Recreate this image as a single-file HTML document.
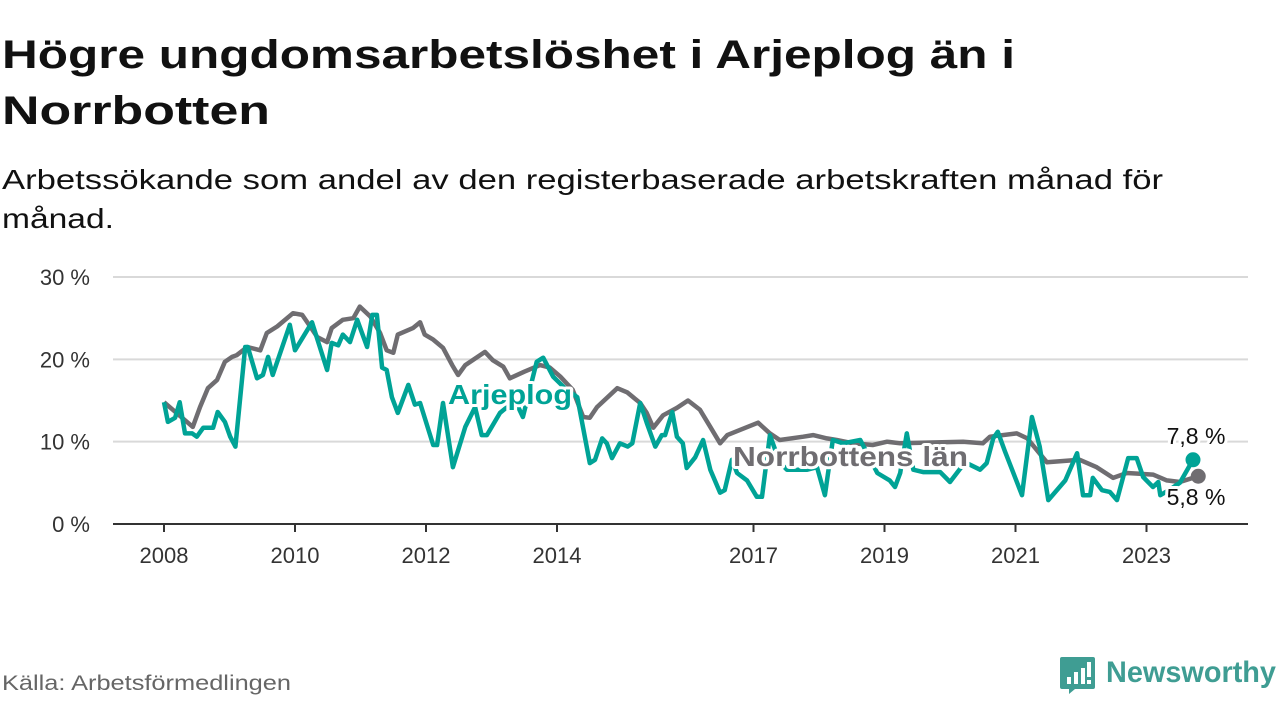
<!DOCTYPE html>
<html><head><meta charset="utf-8">
<style>
body{margin:0;background:#fff;width:1280px;height:720px;overflow:hidden;font-family:"Liberation Sans","DejaVu Sans",sans-serif;}
svg text{font-family:"Liberation Sans","DejaVu Sans",sans-serif;}
</style></head>
<body>
<svg id="chart" width="1280" height="720" viewBox="0 0 1280 720">
<text x="2" y="68" font-size="40" font-weight="bold" fill="#111" textLength="1013" lengthAdjust="spacingAndGlyphs">Högre ungdomsarbetslöshet i Arjeplog än i</text>
<text x="2" y="124" font-size="40" font-weight="bold" fill="#111" textLength="268" lengthAdjust="spacingAndGlyphs">Norrbotten</text>
<text x="2" y="189" font-size="28" fill="#111" textLength="1161" lengthAdjust="spacingAndGlyphs">Arbetssökande som andel av den registerbaserade arbetskraften månad för</text>
<text x="2" y="228" font-size="28" fill="#111" textLength="112" lengthAdjust="spacingAndGlyphs">månad.</text>
<g id="grid"></g>
<g id="xaxis"></g>
<g id="lines"></g>
<g id="labels"></g>
<text x="2" y="690" font-size="21" fill="#666" textLength="289" lengthAdjust="spacingAndGlyphs">Källa: Arbetsförmedlingen</text>
<g>
<path d="M1062 657 h31 a2 2 0 0 1 2 2 v28 a2 2 0 0 1 -2 2 h-18 l-6 5 v-5 h-7 a2 2 0 0 1 -2 -2 v-28 a2 2 0 0 1 2 -2z" fill="#3f9d93"/>
<rect x="1067" y="677" width="4" height="7" fill="#fff"/><rect x="1074" y="672" width="4" height="12" fill="#fff"/><rect x="1081" y="668" width="4" height="16" fill="#fff"/><rect x="1087" y="662" width="4" height="15" fill="#fff"/><rect x="1087" y="680" width="4" height="4" fill="#fff"/>
<text x="1106" y="682" font-size="30" font-weight="bold" fill="#3f9d93" textLength="170" lengthAdjust="spacingAndGlyphs">Newsworthy</text>
</g>
</svg>
<script>
const yTicks=[0,10,20,30];
const yTickLabels=["0 %","10 %","20 %","30 %"];
const xTicks=[2008,2010,2012,2014,2017,2019,2021,2023];
const norrDates=[0.00,0.44,0.55,0.67,0.81,0.93,1.04,1.11,1.27,1.47,1.57,1.73,1.97,2.11,2.23,2.34,2.49,2.56,2.73,2.89,2.99,3.15,3.30,3.40,3.50,3.57,3.80,3.91,3.98,4.11,4.26,4.40,4.49,4.60,4.90,5.02,5.18,5.28,5.50,5.74,5.89,6.05,6.24,6.40,6.50,6.61,6.92,7.07,7.27,7.37,7.47,7.62,7.83,8.00,8.18,8.34,8.49,8.60,8.79,9.07,9.25,9.40,9.76,9.91,10.12,10.27,10.52,10.82,11.04,11.24,12.20,12.50,12.61,13.02,13.18,13.48,13.98,14.24,14.49,14.70,15.10,15.31,15.51,15.79];
const norrValues=[14.8,11.8,14.2,16.5,17.5,19.7,20.3,20.5,21.5,21.1,23.2,24,25.6,25.4,24,22.7,22.1,23.8,24.8,25,26.4,25.2,23.2,21.1,20.8,23,23.8,24.5,23,22.4,21.4,19.3,18.1,19.3,20.9,19.9,19.1,17.7,18.5,19.3,19,17.9,16.3,13,12.9,14.2,16.5,16,14.7,13.5,11.7,13.2,14.1,15,13.9,11.8,9.8,10.8,11.4,12.3,11,10.2,10.6,10.8,10.4,10.2,9.8,9.6,10,9.8,10,9.8,10.6,11,10.4,7.5,7.8,6.9,5.6,6.2,6,5.3,5.1,5.8];
const arjDates=[0.00,0.06,0.17,0.24,0.32,0.43,0.50,0.60,0.75,0.82,0.93,1.01,1.09,1.24,1.28,1.42,1.51,1.59,1.66,1.92,2.00,2.26,2.49,2.56,2.66,2.73,2.84,2.95,3.10,3.18,3.25,3.33,3.40,3.48,3.57,3.73,3.83,3.91,4.11,4.17,4.26,4.41,4.60,4.75,4.85,4.93,5.13,5.36,5.48,5.69,5.79,5.94,6.12,6.31,6.50,6.58,6.69,6.76,6.84,6.96,7.08,7.15,7.27,7.37,7.50,7.60,7.65,7.76,7.83,7.92,7.98,8.11,8.23,8.34,8.49,8.56,8.67,8.75,8.90,9.05,9.13,9.25,9.40,9.51,9.82,9.97,10.09,10.21,10.37,10.63,10.89,11.08,11.16,11.24,11.34,11.44,11.59,11.85,12.00,12.23,12.46,12.56,12.66,12.73,12.84,13.10,13.25,13.37,13.50,13.76,13.94,14.03,14.14,14.18,14.32,14.44,14.55,14.72,14.85,14.95,15.10,15.18,15.21,15.36,15.51,15.71];
const arjValues=[14.8,12.4,12.9,14.8,11,11,10.6,11.7,11.7,13.6,12.4,10.6,9.4,21.5,21.5,17.7,18.1,20.3,18.1,24.2,21.1,24.5,18.7,22,21.7,23,22.1,24.8,21.5,25.4,25.4,19,18.7,15.4,13.5,16.9,14.5,14.7,9.6,9.6,14.7,6.9,11.8,14.2,10.8,10.8,13.5,15,13,19.7,20.2,17.9,16.5,15.4,7.4,7.8,10.4,9.8,8,9.8,9.4,9.8,14.7,12.3,9.4,10.8,10.8,13.6,10.6,9.8,6.8,8.1,10.2,6.6,3.8,4.1,7.8,6.2,5.3,3.3,3.3,10.8,7.5,6.6,6.6,6.9,3.5,10.2,9.8,10.2,6.2,5.3,4.5,6.2,11,6.6,6.3,6.3,5.1,7.5,6.6,7.4,10.4,11.2,8.8,3.5,13,9.4,2.9,5.3,8.6,3.5,3.5,5.6,4.1,3.9,2.9,8,8,5.7,4.5,5.1,3.5,4.2,5,7.8];
const NS="http://www.w3.org/2000/svg";
const X=t=>164+t*65.5;
const XY=y=>X(y-2008);
const Y=v=>524-v*8.233;
function mk(tag,attrs,parent){const e=document.createElementNS(NS,tag);for(const k in attrs)e.setAttribute(k,attrs[k]);parent.appendChild(e);return e;}
const grid=document.getElementById('grid');
yTicks.forEach((v,i)=>{
  if(v>0){const l=mk('line',{x1:113,x2:1248,y1:Y(v),y2:Y(v),stroke:'#d9d9d9','stroke-width':2},grid);
  
  }
  const t=mk('text',{x:90,y:Y(v)+8,'font-size':22,fill:'#333','text-anchor':'end'},grid);
  t.textContent=yTickLabels[i];
  
  
});
const xa=document.getElementById('xaxis');
const ax=mk('line',{x1:113,x2:1248,y1:524,y2:524,stroke:'#333','stroke-width':2},xa);


xTicks.forEach(yr=>{
  const tk=mk('line',{x1:XY(yr),x2:XY(yr),y1:524,y2:532,stroke:'#333','stroke-width':2},xa);
  
  
  const t=mk('text',{x:XY(yr),y:563,'font-size':22,fill:'#333','text-anchor':'middle'},xa);
  t.textContent=yr;
  
  
});
const lines=document.getElementById('lines');
function series(dates,vals,color,name){
  const d=dates.map((t,i)=>(i?'L':'M')+X(t).toFixed(1)+' '+Y(vals[i]).toFixed(1)).join(' ');
  const p=mk('path',{d:d,fill:'none',stroke:color,'stroke-width':4.5,'stroke-linejoin':'round'},lines);
  
  
  const n=dates.length-1;
  const c=mk('circle',{cx:X(dates[n]),cy:Y(vals[n]),r:7.5,fill:color},lines);
  
  
}
series(norrDates,norrValues,'#6f6d71','norrbotten');
series(arjDates,arjValues,'#00a396','arjeplog');
const lab=document.getElementById('labels');
function label(x,y,txt,color,size,bold,name,anchor,len){
  const t=mk('text',{x:x,y:y,'font-size':size,fill:color,'font-weight':bold?'bold':'normal',stroke:'#fff','stroke-width':6,'paint-order':'stroke','stroke-linejoin':'round','text-anchor':anchor||'start'},lab);
  if(len){t.setAttribute('textLength',len);t.setAttribute('lengthAdjust','spacingAndGlyphs');}
  t.textContent=txt;
  
  
}
label(448,404,'Arjeplog','#00a396',28,true,'arjeplog-label',null,124);
label(733,466,'Norrbottens län','#6f6d71',28,true,'norrbotten-label',null,235);
label(1196,444,'7,8 %','#111',23,false,'arjeplog-end-value','middle');
label(1196,505,'5,8 %','#111',23,false,'norrbotten-end-value','middle');
</script>
</body></html>
